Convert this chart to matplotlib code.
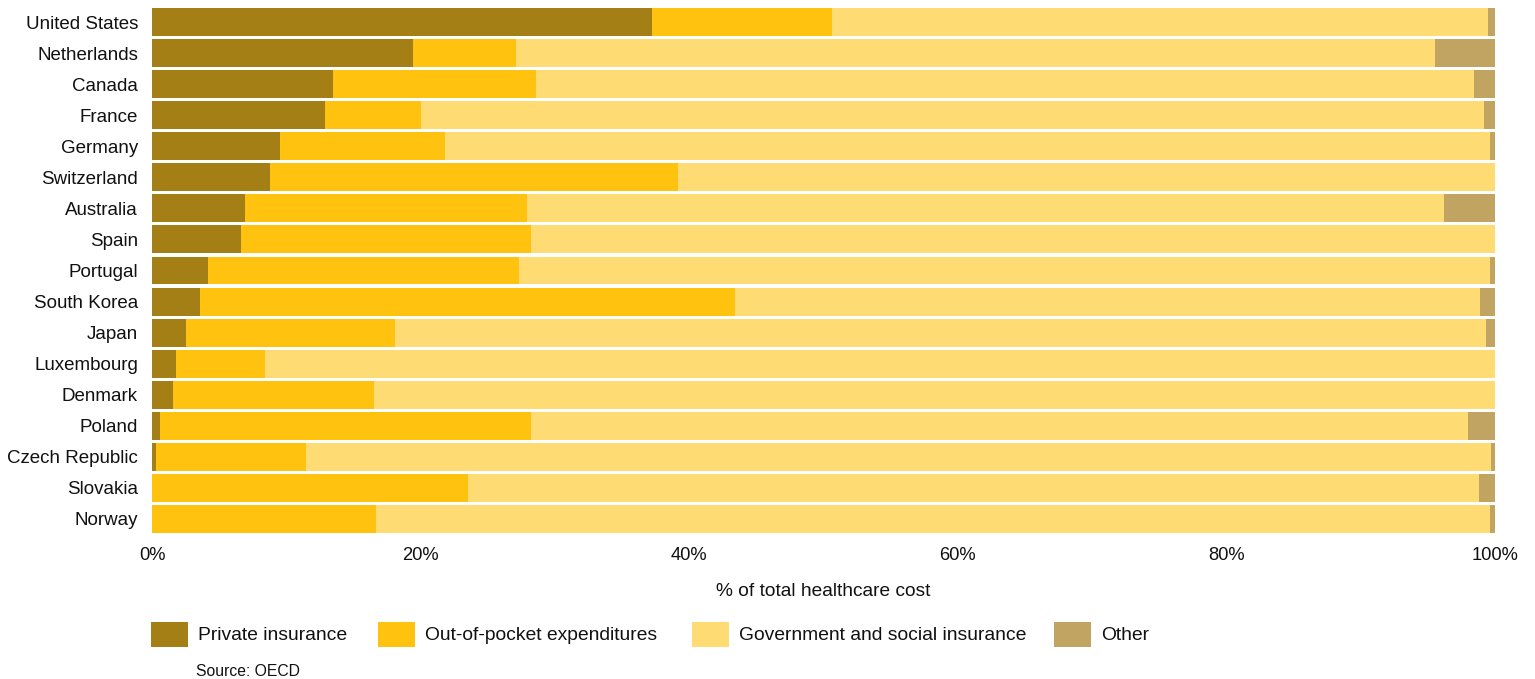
import matplotlib
matplotlib.use("Agg")
import matplotlib.pyplot as plt
from matplotlib.patches import Rectangle
import numpy as np

plt.rcParams['font.family'] = ['Liberation Sans', 'DejaVu Sans']

countries = ["United States", "Netherlands", "Canada", "France", "Germany",
             "Switzerland", "Australia", "Spain", "Portugal", "South Korea",
             "Japan", "Luxembourg", "Denmark", "Poland", "Czech Republic",
             "Slovakia", "Norway"]
private_ins = [37.2, 19.4, 13.5, 12.9, 9.5, 8.8, 6.9, 6.6, 4.2, 3.6, 2.5, 1.8, 1.6, 0.6, 0.3, 0.0, 0.0]
out_of_pocket = [13.4, 7.7, 15.1, 7.1, 12.3, 30.4, 21.0, 21.6, 23.1, 39.8, 15.6, 6.6, 14.9, 27.6, 11.2, 23.5, 16.7]
government = [48.9, 68.4, 69.8, 79.2, 77.8, 60.8, 68.3, 71.8, 72.3, 55.5, 81.2, 91.6, 83.5, 69.8, 88.2, 75.3, 82.9]
other = [0.5, 4.5, 1.6, 0.8, 0.4, 0.0, 3.8, 0.0, 0.4, 1.1, 0.7, 0.0, 0.0, 2.0, 0.3, 1.2, 0.4]

series_names = ["Private insurance", "Out-of-pocket expenditures",
                "Government and social insurance", "Other"]
colors = ["#A37F15", "#FFC20F", "#FFDB73", "#C2A462"]
xticks = [0, 20, 40, 60, 80, 100]
xtick_labels = ["0%", "20%", "40%", "60%", "80%", "100%"]

W, H = 1535, 679
fig = plt.figure(figsize=(15.35, 6.79), dpi=100)
ax = fig.add_axes([152/W, 1 - 534.5/H, (1495-152)/W, (534.5-6.5)/H])

y = np.arange(len(countries))
left = np.zeros(len(countries))
for vals, col in zip([private_ins, out_of_pocket, government, other], colors):
    v = np.array(vals)
    ax.barh(y, v, left=left, height=0.9, color=col, edgecolor='none')
    left += v

ax.set_ylim(len(countries) - 0.5, -0.5)
ax.set_xlim(0, 100)
ax.set_yticks(y)
ax.set_yticklabels(countries, fontsize=13.5, color='#111111')
ax.set_xticks(xticks)
ax.set_xticklabels(xtick_labels, fontsize=13.2, color='#111111')
ax.tick_params(axis='both', length=0)
ax.tick_params(axis='y', pad=10)
ax.tick_params(axis='x', pad=9)
for s in ax.spines.values():
    s.set_visible(False)

fig.text(823 / W, 1 - 592 / H, "% of total healthcare cost", fontsize=13.8,
         ha='center', va='center', color='#111111')

# legend
leg_x = [151, 378, 692, 1054]
for xp, col, name in zip(leg_x, colors, series_names):
    fig.add_artist(Rectangle((xp / W, 1 - 647 / H), 37 / W, 25 / H,
                             transform=fig.transFigure, color=col, lw=0))
    fig.text((xp + 47) / W, 1 - 635 / H, name, fontsize=13.9, va='center',
             ha='left', color='#111111')

fig.text(196 / W, 1 - 671 / H, "Source: OECD", fontsize=11.3, va='center',
         ha='left', color='#111111')

fig.savefig("out.png", dpi=100)
